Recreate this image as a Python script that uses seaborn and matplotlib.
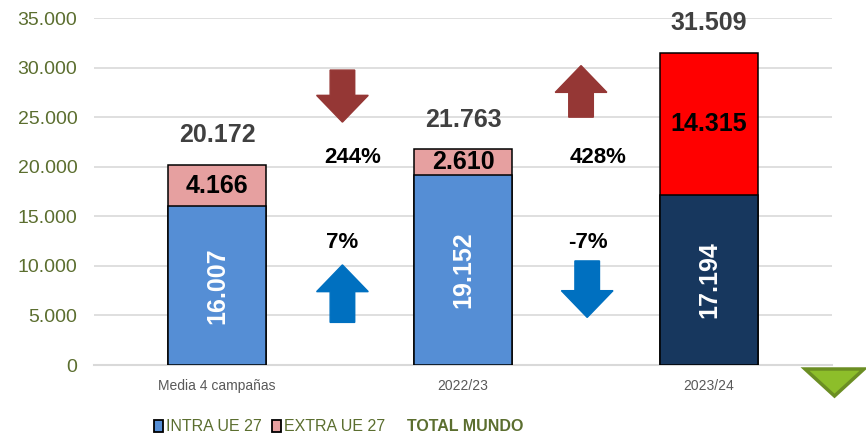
import matplotlib
matplotlib.use("Agg")
import matplotlib.pyplot as plt
from matplotlib.patches import FancyArrow, Patch, Polygon
from matplotlib.ticker import FuncFormatter
import pandas as pd
import seaborn as sns

# data
campaigns = ["Media 4 campañas", "2022/23", "2023/24"]
intra_ue = [16007, 19152, 17194]
extra_ue = [4166, 2610, 14315]
totals = [20172, 21763, 31509]
intra_colors = ["#558ED5", "#558ED5", "#17375E"]
extra_colors = ["#E6A0A0", "#E6A0A0", "#FF0000"]

# changes between campaigns (label, direction)
extra_change = ["244%", "428%"]
extra_dir = [-1, 1]
intra_change = ["7%", "-7%"]
intra_dir = [1, -1]


def fmt(v):
    return f"{v:,.0f}".replace(",", ".")


df = pd.DataFrame({"campaign": campaigns, "intra": intra_ue, "extra": extra_ue})
df["stack"] = df["intra"] + df["extra"]

sns.set_style("white")
plt.rcParams["font.family"] = ["Liberation Sans", "DejaVu Sans"]

fig = plt.figure(figsize=(8.66, 4.47), dpi=100)
ax = fig.add_axes([0.1085, 0.1834, 0.8522, 0.7763])

# stacked bars: full height in the "extra" colour, intra drawn on top of it
sns.barplot(data=df, x="campaign", y="stack", hue="campaign", palette=extra_colors,
            saturation=1, width=0.4, edgecolor="black", linewidth=1.1, legend=False,
            ax=ax, zorder=3)
sns.barplot(data=df, x="campaign", y="intra", hue="campaign", palette=intra_colors,
            saturation=1, width=0.4, edgecolor="black", linewidth=1.1, legend=False,
            ax=ax, zorder=4)

ax.set_ylim(0, 35000)
ax.set_xlim(-0.5, 2.5)
ax.set_yticks(range(0, 35001, 5000))
ax.yaxis.set_major_formatter(FuncFormatter(lambda v, p: fmt(v)))
ax.grid(axis="y", color="#D9D9D9", linewidth=1.2, zorder=0)
ax.set_axisbelow(True)
for s in ["top", "right", "left"]:
    ax.spines[s].set_visible(False)
ax.spines["bottom"].set_color("#D9D9D9")
ax.spines["bottom"].set_linewidth(1.5)
ax.tick_params(axis="y", length=0, pad=12, labelsize=14, labelcolor="#5B6E2F")
ax.tick_params(axis="x", length=0, pad=10)
ax.set_xlabel("")
ax.set_ylabel("")
for lbl in ax.get_xticklabels():
    lbl.set_fontsize(10)
    lbl.set_color("#595959")

# value labels
for i in range(len(campaigns)):
    ax.text(i, intra_ue[i] / 2, fmt(intra_ue[i]), rotation=90, ha="center", va="center",
            color="white", fontsize=18, fontweight="bold", zorder=6)
    ax.text(i, intra_ue[i] + extra_ue[i] / 2, fmt(extra_ue[i]), ha="center", va="center",
            color="black", fontsize=18, fontweight="bold", zorder=6)
    ax.text(i, intra_ue[i] + extra_ue[i] + 3000, fmt(totals[i]), ha="center", va="center",
            color="#404040", fontsize=18, fontweight="bold", zorder=6)

# change arrows and percentages between bars
for k in range(2):
    xm = k + 0.5
    if extra_dir[k] < 0:
        ax.add_patch(FancyArrow(xm + 0.01, 29750, 0, -5250, width=0.1, head_width=0.21,
                                head_length=2700, length_includes_head=True,
                                color="#953735", zorder=5))
    else:
        ax.add_patch(FancyArrow(xm - 0.02, 25000, 0, 5200, width=0.1, head_width=0.21,
                                head_length=2700, length_includes_head=True,
                                color="#953735", zorder=5))
    if intra_dir[k] > 0:
        ax.add_patch(FancyArrow(xm + 0.01, 4300, 0, 5800, width=0.1, head_width=0.21,
                                head_length=2700, length_includes_head=True,
                                color="#0070C0", zorder=5))
    else:
        ax.add_patch(FancyArrow(xm + 0.005, 10500, 0, -5700, width=0.1, head_width=0.21,
                                head_length=2700, length_includes_head=True,
                                color="#0070C0", zorder=5))
    ax.text(xm + 0.05, 20900, extra_change[k], ha="center", va="center",
            fontsize=16, fontweight="bold", color="black")
    ax.text(xm + 0.01, 12400, intra_change[k], ha="center", va="center",
            fontsize=16, fontweight="bold", color="black")

# green triangle marker at the bottom right
fig.patches.append(Polygon([[805 / 866, 1 - 369 / 447], [864 / 866, 1 - 369 / 447],
                            [834.5 / 866, 1 - 396 / 447]], closed=True,
                           transform=fig.transFigure, facecolor="#8DBE2A",
                           edgecolor="#6B8E23", linewidth=2.5))

# legend
handles = [Patch(facecolor="#558ED5", edgecolor="black", linewidth=1.3),
           Patch(facecolor="#E6A0A0", edgecolor="black", linewidth=1.3),
           Patch(visible=False)]
leg = fig.legend(handles, ["INTRA UE 27", "EXTRA UE 27", "TOTAL MUNDO"],
                 loc="center left", bbox_to_anchor=(140 / 866, 0.045), ncol=3,
                 frameon=False, handlelength=0.55, handleheight=0.8, handletextpad=0.15,
                 columnspacing=0.7, prop={"size": 11.5})
for t in leg.get_texts():
    t.set_color("#5B6E2F")
leg.get_texts()[2].set_fontweight("bold")

fig.savefig("out.png", dpi=100)
